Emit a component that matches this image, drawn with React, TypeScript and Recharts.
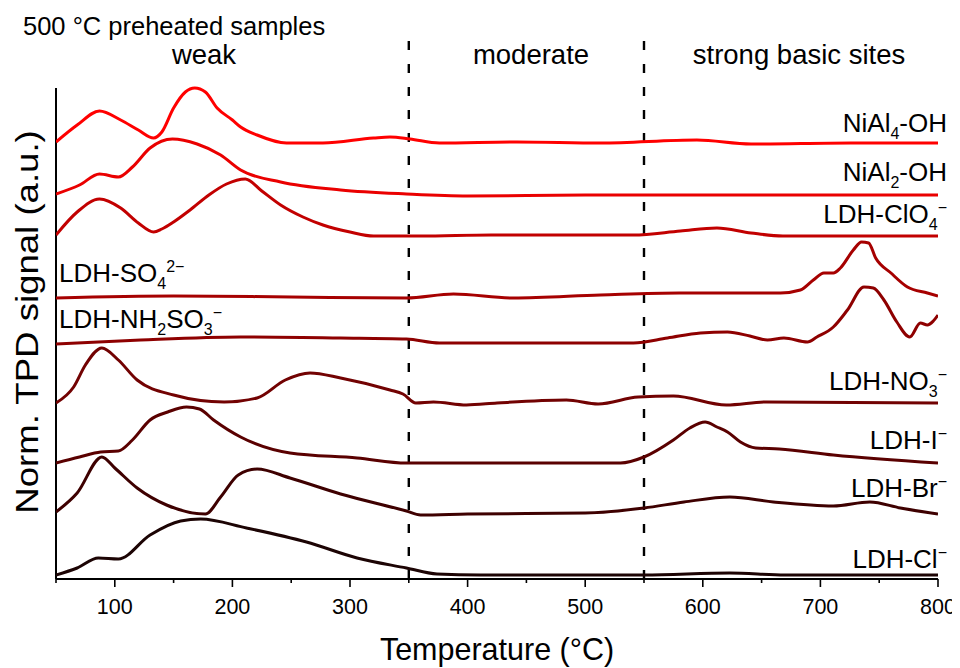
import React from 'react';
import { LineChart, Line, XAxis, YAxis, ReferenceLine } from 'recharts';

type Pt = [number, number];

// temperature (°C), normalised signal incl. stacking offset (a.u.)
const NIAL4_OH: Pt[] = [
  [50, 437], [68, 454], [87, 468], [105, 459], [120, 449], [133, 441], [140, 447], [150, 471],
  [160, 487], [168, 491], [177, 487], [187, 471], [200, 459], [207, 452], [221, 444], [246, 436],
  [277, 436], [320, 441], [334, 442], [351, 440], [376, 436], [442, 437], [513, 436], [595, 439],
  [641, 435], [726, 436], [800, 436],
];
const NIAL2_OH: Pt[] = [
  [50, 385], [70, 394], [87, 405], [103, 402], [115, 412], [130, 431], [149, 440], [170, 435],
  [190, 424], [207, 409], [241, 397], [292, 389], [348, 385], [400, 383], [500, 384], [600, 384],
  [700, 384], [800, 384],
];
const LDH_CLO4: Pt[] = [
  [50, 344], [68, 367], [87, 380], [105, 371], [120, 356], [133, 347], [140, 350], [150, 357],
  [164, 369], [180, 384], [195, 395], [211, 400], [225, 388], [241, 374], [260, 362], [277, 354],
  [300, 347], [320, 343], [360, 343], [420, 344], [480, 344], [541, 344], [581, 348], [612, 351],
  [641, 346], [668, 343], [800, 343],
];
const LDH_SO4: Pt[] = [
  [50, 281], [150, 283], [250, 282], [348, 281], [388, 285], [439, 281], [513, 284], [580, 286],
  [666, 286], [683, 289], [694, 299], [703, 306], [711, 306], [717, 311], [728, 329], [735, 337],
  [741, 336], [747, 321], [760, 306], [774, 292], [791, 286], [800, 283],
];
const LDH_NH2SO3: Pt[] = [
  [50, 235], [122, 239], [207, 242], [292, 241], [348, 240], [376, 236], [450, 236], [513, 236],
  [541, 236], [570, 241], [598, 246], [621, 247], [640, 243], [655, 239], [669, 241], [689, 237],
  [697, 242], [711, 252], [723, 269], [737, 292], [745, 291], [754, 279], [765, 257], [776, 242],
  [785, 256], [791, 254], [796, 258], [800, 264],
];
const LDH_NO3: Pt[] = [
  [50, 176], [65, 192], [75, 214], [89, 231], [103, 219], [119, 199], [150, 184], [193, 177],
  [221, 181], [245, 199], [266, 206], [292, 201], [334, 189], [345, 185], [356, 176], [371, 177],
  [399, 174], [425, 176], [484, 179], [511, 175], [545, 182], [575, 183], [620, 174], [654, 177],
  [800, 176],
];
const LDH_I: Pt[] = [
  [50, 116], [70, 122], [88, 127], [103, 128], [115, 139], [130, 159], [145, 167], [161, 172],
  [172, 170], [184, 159], [207, 142], [249, 126], [306, 121], [348, 116], [400, 116], [530, 116],
  [550, 122], [575, 139], [589, 151], [602, 157], [612, 152], [621, 147], [632, 137], [645, 131],
  [665, 130], [711, 124], [800, 116],
];
const LDH_BR: Pt[] = [
  [50, 67], [68, 86], [89, 122], [100, 111], [119, 91], [144, 74], [177, 65], [190, 82],
  [205, 104], [221, 110], [249, 101], [292, 85], [348, 68], [360, 64], [400, 65], [500, 66],
  [550, 71], [584, 77], [623, 82], [660, 77], [711, 73], [742, 77], [768, 71], [800, 65],
];
const LDH_CL: Pt[] = [
  [50, 4], [68, 11], [86, 21], [103, 20], [130, 44], [156, 58], [173, 60], [212, 51],
  [263, 37], [306, 21], [348, 11], [374, 5], [411, 4], [550, 4], [623, 6], [670, 4], [800, 4],
];

const SERIES = [
  { name: 'NiAl4-OH', data: NIAL4_OH, color: '#ff0000' },
  { name: 'NiAl2-OH', data: NIAL2_OH, color: '#ea0000' },
  { name: 'LDH-ClO4', data: LDH_CLO4, color: '#c20000' },
  { name: 'LDH-SO4', data: LDH_SO4, color: '#a60000' },
  { name: 'LDH-NH2SO3', data: LDH_NH2SO3, color: '#8e0000' },
  { name: 'LDH-NO3', data: LDH_NO3, color: '#720202' },
  { name: 'LDH-I', data: LDH_I, color: '#5a0000' },
  { name: 'LDH-Br', data: LDH_BR, color: '#3e0000' },
  { name: 'LDH-Cl', data: LDH_CL, color: '#1c0404' },
];

const X_TICKS = [50, 100, 150, 200, 250, 300, 350, 400, 450, 500, 550, 600, 650, 700, 750, 800];
const REGION_BOUNDS = [350, 550];
const REGIONS = [
  { text: 'weak', cx: 196 },
  { text: 'moderate', cx: 523 },
  { text: 'strong basic sites', cx: 791 },
];

const FONT = '"Liberation Sans", Arial, sans-serif';

const TempTick = (props: any) => {
  const { x, y, payload } = props;
  const major = payload.value % 100 === 0;
  return (
    <g>
      <line x1={x} x2={x} y1={y} y2={y + (major ? 8 : 4)} stroke="#000" strokeWidth={1.6} />
      {major && (
        <text x={x} y={y + 35} textAnchor="middle" fontSize={21.5} fontFamily={FONT} fill="#000">
          {payload.value}
        </text>
      )}
    </g>
  );
};

const Sub = ({ children }: { children: React.ReactNode }) => (
  <span style={{ fontSize: 16, position: 'relative', top: 7 }}>{children}</span>
);
const Sup = ({ children }: { children: React.ReactNode }) => (
  <span style={{ fontSize: 16, position: 'relative', top: -10 }}>{children}</span>
);

// baseline is given in page pixels
const SeriesLabel = ({ baseline, left, children }: { baseline: number; left?: number; children: React.ReactNode }) => (
  <div
    style={{
      position: 'absolute',
      top: baseline - 8 - 22,
      ...(left !== undefined ? { left } : { right: 13 }),
      fontSize: 26,
      lineHeight: 1,
      whiteSpace: 'nowrap',
      color: '#000',
    }}
  >
    {children}
  </div>
);

export default function App() {
  return (
    <div style={{ position: 'relative', width: 952, height: 660, fontFamily: FONT }}>
      <LineChart width={952} height={660} margin={{ top: 31, right: 22, left: 48, bottom: 29 }}>
        <XAxis
          dataKey="t"
          type="number"
          domain={[50, 800]}
          ticks={X_TICKS}
          interval={0}
          tick={<TempTick />}
          tickLine={false}
          tickSize={0}
          tickMargin={0}
          height={60}
          axisLine={{ stroke: '#000', strokeWidth: 2 }}
          allowDataOverflow
        />
        <YAxis hide type="number" domain={[0, 540]} allowDataOverflow />
        <ReferenceLine
          segment={[{ x: 50, y: 0 }, { x: 50, y: 491 }]}
          stroke="#000"
          strokeWidth={2}
          ifOverflow="visible"
        />
        {REGION_BOUNDS.map((b) => (
          <ReferenceLine key={b} x={b} stroke="#000" strokeWidth={2.4} strokeDasharray="9 14" />
        ))}
        {SERIES.map((s) => (
          <Line
            key={s.name}
            data={s.data.map(([t, v]) => ({ t, v }))}
            dataKey="v"
            name={s.name}
            type="monotone"
            stroke={s.color}
            strokeWidth={3}
            dot={false}
            activeDot={false}
            isAnimationActive={false}
          />
        ))}
      </LineChart>

      <div style={{ position: 'absolute', left: 15, top: 6, fontSize: 25.5, lineHeight: 1, whiteSpace: 'nowrap' }}>
        500 °C preheated samples
      </div>
      {REGIONS.map((r) => (
        <div
          key={r.text}
          style={{
            position: 'absolute',
            left: r.cx,
            top: 33,
            transform: 'translateX(-50%)',
            fontSize: 27.5,
            lineHeight: 1,
            whiteSpace: 'nowrap',
          }}
        >
          {r.text}
        </div>
      ))}

      <SeriesLabel baseline={132}>NiAl<Sub>4</Sub>-OH</SeriesLabel>
      <SeriesLabel baseline={181}>NiAl<Sub>2</Sub>-OH</SeriesLabel>
      <SeriesLabel baseline={223}>LDH-ClO<Sub>4</Sub><Sup>−</Sup></SeriesLabel>
      <SeriesLabel baseline={282} left={51}>LDH-SO<Sub>4</Sub><Sup>2−</Sup></SeriesLabel>
      <SeriesLabel baseline={328} left={51}>LDH-NH<Sub>2</Sub>SO<Sub>3</Sub><Sup>−</Sup></SeriesLabel>
      <SeriesLabel baseline={390}>LDH-NO<Sub>3</Sub><Sup>−</Sup></SeriesLabel>
      <SeriesLabel baseline={449}>LDH-I<Sup>−</Sup></SeriesLabel>
      <SeriesLabel baseline={497}>LDH-Br<Sup>−</Sup></SeriesLabel>
      <SeriesLabel baseline={568}>LDH-Cl<Sup>−</Sup></SeriesLabel>

      <div
        style={{
          position: 'absolute',
          left: 489,
          top: 626,
          transform: 'translateX(-50%)',
          fontSize: 30.5,
          lineHeight: 1,
          whiteSpace: 'nowrap',
        }}
      >
        Temperature (°C)
      </div>
      <div
        style={{
          position: 'absolute',
          left: 19,
          top: 314,
          transform: 'translate(-50%, -50%) rotate(-90deg) scaleX(1.18)',
          fontSize: 31,
          lineHeight: 1,
          whiteSpace: 'nowrap',
        }}
      >
        Norm. TPD signal (a.u.)
      </div>
    </div>
  );
}
